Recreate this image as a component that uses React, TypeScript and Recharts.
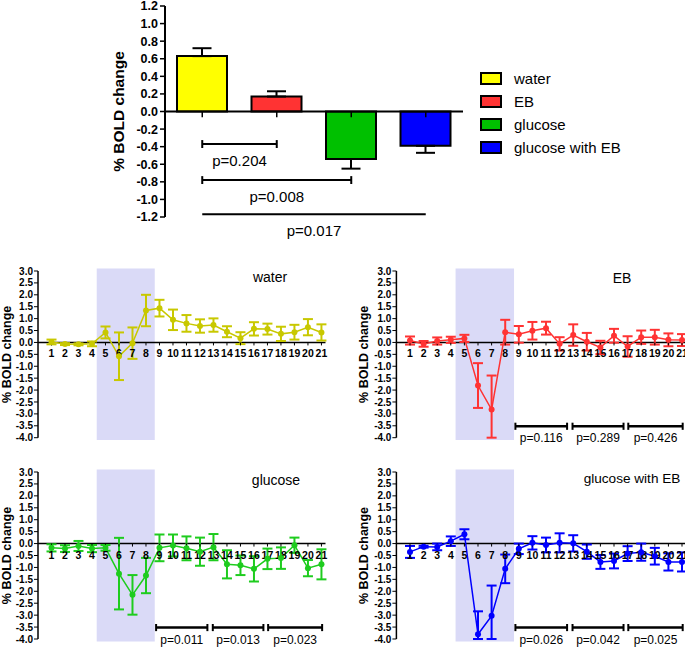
import React from 'react'
import {
  BarChart, Bar, Cell, ErrorBar, XAxis, YAxis, ReferenceLine, ReferenceArea,
  ReferenceDot, Legend, LineChart, Line,
} from 'recharts'

const FONT = '"Liberation Sans", Arial, Helvetica, sans-serif'

// ---- top panel: mean % BOLD change per group ----
const groups = ['water', 'EB', 'glucose', 'glucose with EB']
const groupColors = ['#ffff00', '#ff3333', '#00c000', '#0000ff']
const groupMeans = [0.63, 0.17, -0.54, -0.39]
const groupSem = [0.09, 0.06, 0.11, 0.08]
const barTicks = [-1.2, -1.0, -0.8, -0.6, -0.4, -0.2, 0.0, 0.2, 0.4, 0.6, 0.8, 1.0, 1.2]

const compFrom = ['water', 'water', 'water']
const compTo = ['EB', 'glucose', 'glucose with EB']
const compLevel = [-0.37, -0.78, -1.17]
const compLabels = ['p=0.204', 'p=0.008', 'p=0.017']

// ---- time courses ----
const timePoints = [1, 2, 3, 4, 5, 6, 7, 8, 9, 10, 11, 12, 13, 14, 15, 16, 17, 18, 19, 20, 21]
const timeTicks = [-4.0, -3.5, -3.0, -2.5, -2.0, -1.5, -1.0, -0.5, 0.0, 0.5, 1.0, 1.5, 2.0, 2.5, 3.0]
const Y_MIN = -4
const Y_MAX = 3

const waterMean = [0.02, -0.07, -0.08, -0.06, 0.42, -0.58, -0.03, 1.34, 1.44, 0.95, 0.8, 0.69, 0.73, 0.45, 0.18, 0.57, 0.56, 0.36, 0.43, 0.64, 0.42]
const waterSem = [0.1, 0.04, 0.04, 0.1, 0.25, 1.0, 0.66, 0.66, 0.35, 0.43, 0.35, 0.28, 0.28, 0.23, 0.25, 0.28, 0.23, 0.3, 0.31, 0.34, 0.34]

const ebMean = [0.08, -0.06, 0.06, 0.11, 0.17, -1.81, -2.82, 0.43, 0.34, 0.49, 0.6, -0.06, 0.31, 0.03, -0.21, 0.28, -0.17, 0.22, 0.22, 0.11, 0.1]
const ebSem = [0.17, 0.12, 0.15, 0.13, 0.15, 0.94, 1.43, 0.52, 0.35, 0.37, 0.27, 0.28, 0.45, 0.37, 0.28, 0.29, 0.43, 0.28, 0.31, 0.27, 0.25]

const glucoseMean = [-0.18, -0.21, -0.1, -0.21, -0.18, -1.26, -2.15, -1.34, -0.18, -0.08, -0.2, -0.34, -0.15, -0.87, -0.91, -1.06, -0.64, -0.61, -0.07, -1.03, -0.87]
const glucoseSem = [0.15, 0.14, 0.21, 0.15, 0.12, 1.5, 0.83, 0.74, 0.56, 0.46, 0.5, 0.59, 0.55, 0.59, 0.41, 0.53, 0.43, 0.45, 0.32, 0.34, 0.63]

const glucoseEbMean = [-0.35, -0.13, -0.14, 0.1, 0.39, -3.8, -3.03, -1.06, -0.22, 0.03, -0.06, 0.03, 0.01, -0.34, -0.77, -0.73, -0.42, -0.36, -0.53, -0.77, -0.77]
const glucoseEbSem = [0.25, 0.04, 0.14, 0.2, 0.21, 0.96, 1.27, 0.6, 0.22, 0.28, 0.31, 0.4, 0.34, 0.3, 0.29, 0.31, 0.31, 0.36, 0.35, 0.36, 0.4]

// stimulus window (shaded) and the three post-stimulus windows that were tested
const stimStart = 4.35
const stimEnd = 8.65
const windowStart = [8.75, 12.95, 17.05]
const windowEnd = [12.55, 16.7, 21.05]
const ebP = ['p=0.116', 'p=0.289', 'p=0.426']
const glucoseP = ['p=0.011', 'p=0.013', 'p=0.023']
const glucoseEbP = ['p=0.026', 'p=0.042', 'p=0.025']

const barData = groups.map((g, i) => ({
  name: g,
  value: groupMeans[i],
  // one-sided error bar, away from zero
  err: groupMeans[i] >= 0 ? [0, groupSem[i]] : [groupSem[i], 0],
}))

const GroupLegend = () => (
  <div style={{ fontFamily: FONT, fontSize: 15, color: '#000' }}>
    {groups.map((g, i) => (
      <div key={g} style={{ display: 'flex', alignItems: 'center', height: 23 }}>
        <div style={{ width: 18, height: 9, border: '2px solid #000', background: groupColors[i], marginRight: 12 }} />
        <span>{g}</span>
      </div>
    ))}
  </div>
)

const TimeTick = (props: any) => (
  <g>
    <line x1={props.cx} x2={props.cx} y1={props.cy} y2={props.cy + 3} stroke="#000" strokeWidth={1} />
    <text x={props.cx} y={props.cy + 15} textAnchor="middle" fontSize={10.5} fontWeight="bold" fontFamily={FONT} fill="#000">
      {props.tickLabel}
    </text>
  </g>
)

interface TimeCourseProps {
  left: number
  top: number
  axisWidth: number
  plotWidth: number
  plotHeight: number
  rightPad: number
  color: string
  means: number[]
  sems: number[]
  pValues?: string[]
}

function TimeCourse({ left, top, axisWidth, plotWidth, plotHeight, rightPad, color, means, sems, pValues }: TimeCourseProps) {
  // error bars stop at the bottom of the axis, like the original plot
  const data = timePoints.map((t, i) => ({
    x: t,
    v: means[i],
    e: [Math.min(sems[i], means[i] - Y_MIN), sems[i]],
  }))
  return (
    <div style={{ position: 'absolute', left, top }}>
      <LineChart
        width={axisWidth + plotWidth + rightPad}
        height={plotHeight + 20}
        data={data}
        margin={{ top: 8, right: rightPad, bottom: 12, left: 0 }}
      >
        <XAxis type="number" dataKey="x" domain={[0, 21.3]} hide allowDataOverflow />
        <YAxis
          domain={[Y_MIN, Y_MAX]}
          ticks={timeTicks}
          interval={0}
          allowDataOverflow
          width={axisWidth}
          tickFormatter={(v: number) => v.toFixed(1)}
          tick={{ fill: '#000', fontSize: 10, fontWeight: 'bold', fontFamily: FONT }}
          tickSize={4}
          tickMargin={1}
          axisLine={{ stroke: '#000', strokeWidth: 1.5 }}
          tickLine={{ stroke: '#000', strokeWidth: 1 }}
          label={{ value: '% BOLD change', angle: -90, position: 'center', fill: '#000', fontSize: 12.5, fontWeight: 'bold', fontFamily: FONT }}
        />
        <ReferenceArea x1={stimStart} x2={stimEnd} y1={-4.1} y2={3.1} fill="#dadaf7" fillOpacity={1} stroke="none" ifOverflow="visible" />
        <ReferenceLine y={0} stroke="#000" strokeWidth={1.5} />
        {timePoints.map((t) => (
          <ReferenceDot key={t} x={t} y={0} r={0} ifOverflow="visible" shape={(p: any) => <TimeTick {...p} tickLabel={t} />} />
        ))}
        {pValues && windowStart.map((x1, i) => (
          <React.Fragment key={i}>
            <ReferenceLine
              segment={[{ x: x1, y: -3.52 }, { x: windowEnd[i], y: -3.52 }]}
              stroke="#000"
              strokeWidth={2.5}
              ifOverflow="visible"
              label={{ value: pValues[i], position: 'bottom', offset: 7.5, fill: '#000', fontSize: 12, fontFamily: FONT }}
            />
            <ReferenceLine segment={[{ x: x1, y: -3.37 }, { x: x1, y: -3.67 }]} stroke="#000" strokeWidth={2} ifOverflow="visible" />
            <ReferenceLine segment={[{ x: windowEnd[i], y: -3.37 }, { x: windowEnd[i], y: -3.67 }]} stroke="#000" strokeWidth={2} ifOverflow="visible" />
          </React.Fragment>
        ))}
        <Line
          type="linear"
          dataKey="v"
          stroke={color}
          strokeWidth={1.5}
          dot={{ r: 3, fill: color, stroke: color, strokeWidth: 0 }}
          activeDot={false}
          isAnimationActive={false}
        >
          <ErrorBar dataKey="e" width={5} stroke={color} strokeWidth={2} direction="y" isAnimationActive={false} />
        </Line>
      </LineChart>
    </div>
  )
}

const titleStyle = (cx: number, cy: number): React.CSSProperties => ({
  position: 'absolute',
  left: cx,
  top: cy - 8,
  transform: 'translateX(-50%)',
  fontFamily: FONT,
  fontSize: 14,
  lineHeight: '16px',
  whiteSpace: 'nowrap',
  color: '#000',
})

export default function App() {
  return (
    <div style={{ position: 'absolute', left: 0, top: 0, width: 685, height: 648, overflow: 'hidden', background: '#fff' }}>
      <div style={{ position: 'absolute', left: 0, top: 0 }}>
        <BarChart width={685} height={240} data={barData} margin={{ top: 6, right: 222, bottom: 23, left: 71 }} barSize={50}>
          <XAxis dataKey="name" hide />
          <YAxis
            domain={[-1.2, 1.2]}
            ticks={barTicks}
            interval={0}
            allowDataOverflow
            width={94}
            tickFormatter={(v: number) => v.toFixed(1)}
            tick={{ fill: '#000', fontSize: 12.5, fontWeight: 'bold', fontFamily: FONT }}
            tickSize={5}
            tickMargin={2}
            axisLine={{ stroke: '#000', strokeWidth: 2 }}
            tickLine={{ stroke: '#000', strokeWidth: 1.5 }}
            label={{ value: '% BOLD change', angle: -90, position: 'center', fill: '#000', fontSize: 15.5, fontWeight: 'bold', fontFamily: FONT }}
          />
          <ReferenceLine y={0} stroke="#000" strokeWidth={2} />
          <Bar dataKey="value" stroke="#000" strokeWidth={2} isAnimationActive={false}>
            {barData.map((d, i) => (
              <Cell key={d.name} fill={groupColors[i]} />
            ))}
            <ErrorBar dataKey="err" width={9.5} stroke="#000" strokeWidth={2} direction="y" isAnimationActive={false} />
          </Bar>
          {groups.map((g) => (
            <ReferenceLine key={g} segment={[{ x: g, y: 0 }, { x: g, y: -0.065 }]} stroke="#000" strokeWidth={1.5} />
          ))}
          {compLabels.map((p, i) => (
            <React.Fragment key={p}>
              <ReferenceLine
                segment={[{ x: compFrom[i], y: compLevel[i] }, { x: compTo[i], y: compLevel[i] }]}
                stroke="#000"
                strokeWidth={2}
                label={{ value: p, position: 'bottom', offset: 11, fill: '#000', fontSize: 15, fontFamily: FONT }}
              />
              <ReferenceLine segment={[{ x: compFrom[i], y: compLevel[i] + 0.045 }, { x: compFrom[i], y: compLevel[i] - 0.045 }]} stroke="#000" strokeWidth={2} />
              <ReferenceLine segment={[{ x: compTo[i], y: compLevel[i] + 0.045 }, { x: compTo[i], y: compLevel[i] - 0.045 }]} stroke="#000" strokeWidth={2} />
            </React.Fragment>
          ))}
          <Legend
            layout="horizontal"
            verticalAlign="middle"
            align="center"
            wrapperStyle={{ left: 480, top: 67, width: 200, height: 96 }}
            content={() => <GroupLegend />}
          />
        </BarChart>
      </div>

      <TimeCourse left={-24} top={263} axisWidth={62} plotWidth={287.5} plotHeight={166.7} rightPad={12} color="#c8c800" means={waterMean} sems={waterSem} />
      <TimeCourse left={330.6} top={263} axisWidth={65.4} plotWidth={289.7} plotHeight={166.7} rightPad={0} color="#ff3333" means={ebMean} sems={ebSem} pValues={ebP} />
      <TimeCourse left={-24} top={464.3} axisWidth={62} plotWidth={287.5} plotHeight={167} rightPad={12} color="#1ecc1e" means={glucoseMean} sems={glucoseSem} pValues={glucoseP} />
      <TimeCourse left={330.6} top={464.3} axisWidth={65.4} plotWidth={289.7} plotHeight={167} rightPad={0} color="#0000ff" means={glucoseEbMean} sems={glucoseEbSem} pValues={glucoseEbP} />

      <div style={titleStyle(270, 277)}>water</div>
      <div style={titleStyle(622, 278)}>EB</div>
      <div style={titleStyle(276, 480)}>glucose</div>
      <div style={{ ...titleStyle(632, 479), fontSize: 13.6 }}>glucose with EB</div>
    </div>
  )
}
